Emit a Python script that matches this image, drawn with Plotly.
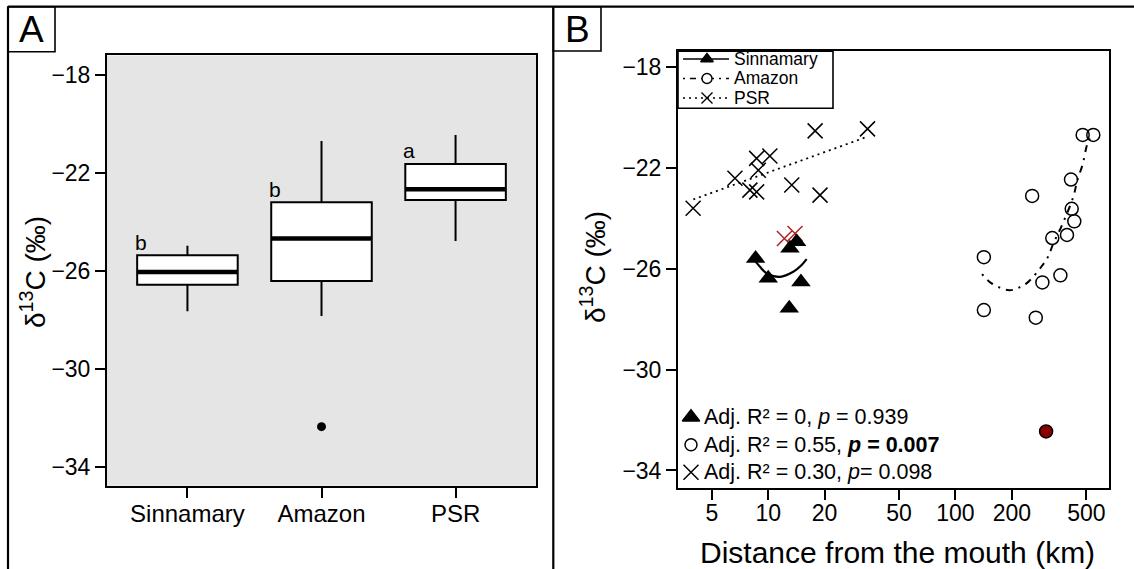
import plotly.graph_objects as go

W, H = 1134, 569
FONT = "Liberation Sans, Arial, Helvetica, sans-serif"

# ---------------- Panel A: box statistics ----------------
groups = ["Sinnamary", "Amazon", "PSR"]
box_low = [-27.65, -27.84, -24.78]
box_q1 = [-26.56, -26.41, -23.10]
box_med = [-26.04, -24.68, -22.67]
box_q3 = [-25.36, -23.20, -21.63]
box_high = [-24.97, -20.70, -20.45]
outlier_pos = [2]
outlier_val = [-32.36]
sig_letters = ["b", "b", "a"]

# ---------------- Panel B: scatter data ----------------
sin_dist = [8.56, 10.0, 13.06, 14.18, 14.95, 12.95]
sin_d13c = [-25.59, -26.38, -25.19, -24.93, -26.52, -27.57]

ama_dist = [141.8, 141.8, 256.8, 268.5, 291.2, 328.9, 363.4, 394.1, 417.6, 431.2, 414.0, 478.0, 544.6]
ama_d13c = [-25.54, -27.64, -23.11, -27.94, -26.54, -24.78, -26.26, -24.66, -23.62, -24.12, -22.46, -20.69, -20.69]
ama_out_dist = [304.8]
ama_out_d13c = [-32.45]

psr_dist = [3.97, 6.64, 7.98, 8.67, 8.85, 8.67, 10.2, 13.35, 18.9, 17.8, 33.9]
psr_d13c = [-23.60, -22.41, -22.88, -22.95, -22.09, -21.62, -21.53, -22.68, -23.08, -20.53, -20.45]
psr_red_dist = [12.2, 13.9]
psr_red_d13c = [-24.80, -24.60]

# fitted curves
sin_fit_x = [8.15, 9.03, 9.81, 11.55, 13.6, 15.08, 16.04]
sin_fit_y = [-25.52, -25.92, -26.18, -26.32, -26.12, -25.85, -25.62]
ama_fit_x = [138.6, 156.1, 193.8, 219.2, 244.8, 288.7, 313.2, 333.0, 369.3, 426.0, 447.3, 478.1, 505.8, 523.0]
ama_fit_y = [-26.21, -26.58, -26.85, -26.74, -26.52, -25.90, -25.50, -25.00, -24.30, -23.14, -22.50, -21.85, -21.05, -20.83]
psr_fit_x = [3.98, 33.3]
psr_fit_y = [-23.25, -20.78]

stats_text = [
    "Adj. R² = 0, <i>p</i> = 0.939",
    "Adj. R² = 0.55, <b><i>p</i> = 0.007</b>",
    "Adj. R² = 0.30, <i>p</i>= 0.098",
]
legend_names = ["Sinnamary", "Amazon", "PSR"]
xb_ticks = [5, 10, 20, 50, 100, 200, 500]
y_ticks = [-34, -30, -26, -22, -18]


def X(px):
    return px / W


def Y(py):
    return 1 - py / H


fig = go.Figure()

# ---- Panel A boxes ----
BW = 0.75
for i, g in enumerate(groups):
    fig.add_trace(go.Box(
        x=[i + 1], q1=[box_q1[i]], median=[box_med[i]], q3=[box_q3[i]],
        lowerfence=[box_low[i]], upperfence=[box_high[i]],
        width=BW, whiskerwidth=0, fillcolor="white",
        line=dict(color="black", width=2), boxpoints=False,
        showlegend=False, hoverinfo="skip", xaxis="x", yaxis="y"))
    fig.add_trace(go.Scatter(
        x=[i + 1 - BW / 2, i + 1 + BW / 2], y=[box_med[i], box_med[i]],
        mode="lines", line=dict(color="black", width=4.5),
        showlegend=False, hoverinfo="skip", xaxis="x", yaxis="y"))
fig.add_trace(go.Scatter(
    x=outlier_pos, y=outlier_val, mode="markers",
    marker=dict(color="black", size=9), showlegend=False,
    xaxis="x", yaxis="y"))

# ---- Panel B ----
fig.add_trace(go.Scatter(x=psr_fit_x, y=psr_fit_y, mode="lines",
                         line=dict(color="black", width=1.8, dash="2px,4px"),
                         showlegend=False, xaxis="x2", yaxis="y2"))
fig.add_trace(go.Scatter(x=ama_fit_x, y=ama_fit_y, mode="lines", line_shape="spline",
                         line=dict(color="black", width=2, dash="2px,6px,7px,6px"),
                         showlegend=False, xaxis="x2", yaxis="y2"))
fig.add_trace(go.Scatter(x=sin_fit_x, y=sin_fit_y, mode="lines", line_shape="spline",
                         line=dict(color="black", width=2.2),
                         showlegend=False, xaxis="x2", yaxis="y2"))
fig.add_trace(go.Scatter(x=psr_dist, y=psr_d13c, mode="markers",
                         marker=dict(symbol="x-thin-open", size=15, color="black",
                                     line=dict(color="black", width=1.5)),
                         showlegend=False, xaxis="x2", yaxis="y2"))
fig.add_trace(go.Scatter(x=psr_red_dist, y=psr_red_d13c, mode="markers",
                         marker=dict(symbol="x-thin-open", size=15, color="#b22222",
                                     line=dict(color="#b22222", width=1.5)),
                         showlegend=False, xaxis="x2", yaxis="y2"))
fig.add_trace(go.Scatter(x=sin_dist, y=sin_d13c, mode="markers",
                         marker=dict(symbol="triangle-up", size=17, color="black"),
                         showlegend=False, xaxis="x2", yaxis="y2"))
fig.add_trace(go.Scatter(x=ama_dist, y=ama_d13c, mode="markers",
                         marker=dict(symbol="circle-open", size=13, color="black",
                                     line=dict(color="black", width=1.5)),
                         showlegend=False, xaxis="x2", yaxis="y2"))
fig.add_trace(go.Scatter(x=ama_out_dist, y=ama_out_d13c, mode="markers",
                         marker=dict(symbol="circle", size=13, color="#8b0000",
                                     line=dict(color="black", width=1.5)),
                         showlegend=False, xaxis="x2", yaxis="y2"))

# ---- Legend keys & stats keys on a full-figure pixel overlay axis ----
leg_y = [59, 78.5, 98]
leg_dash = ["solid", "2px,5px,6px,5px", "2px,4px"]
leg_sym = ["triangle-up", "circle", "x-thin-open"]
leg_size = [11, 10, 11]
for k in range(3):
    fig.add_trace(go.Scatter(x=[683, 729], y=[leg_y[k]] * 2, mode="lines",
                             line=dict(color="black", width=1.6, dash=leg_dash[k]),
                             showlegend=False, xaxis="x3", yaxis="y3"))
    fig.add_trace(go.Scatter(x=[707], y=[leg_y[k]], mode="markers",
                             marker=dict(symbol=leg_sym[k], size=leg_size[k], color="white" if k == 1 else "black",
                                         line=dict(color="black", width=1.4)),
                             showlegend=False, xaxis="x3", yaxis="y3"))
stat_y = [417.3, 444.7, 472.2]
stat_sym = ["triangle-up", "circle-open", "x-thin-open"]
stat_size = [15, 12, 15]
for k in range(3):
    fig.add_trace(go.Scatter(x=[691], y=[stat_y[k]], mode="markers",
                             marker=dict(symbol=stat_sym[k], size=stat_size[k], color="black",
                                         line=dict(color="black", width=1.5)),
                             showlegend=False, xaxis="x3", yaxis="y3"))

axis_common = dict(showline=True, mirror=True, linecolor="black", linewidth=2,
                   ticks="outside", ticklen=10, tickwidth=2, tickcolor="black",
                   showgrid=False, zeroline=False)
yfont = dict(family=FONT, size=23, color="black")

fig.update_layout(
    width=W, height=H, margin=dict(l=0, r=0, t=0, b=0),
    paper_bgcolor="white", plot_bgcolor="rgba(0,0,0,0)",
    font=dict(family=FONT, color="black"),
    showlegend=False,
    xaxis=dict(domain=[X(107), X(536)], range=[0.4, 3.6], tickvals=[1, 2, 3],
               ticktext=groups, anchor="y", ticklabelstandoff=-5,
               tickfont=dict(family=FONT, size=24, color="black"), **axis_common),
    yaxis=dict(domain=[Y(485.7), Y(55.4)], range=[-34.77, -17.2], tickvals=y_ticks,
               anchor="x", tickfont=yfont, **axis_common),
    xaxis2=dict(type="log", domain=[X(678), X(1109)], range=[0.518, 2.820],
                tickvals=xb_ticks, ticktext=[str(t) for t in xb_ticks],
                anchor="y2", ticklabelstandoff=-6, tickfont=yfont, **axis_common),
    yaxis2=dict(domain=[Y(487.6), Y(51.2)], range=[-34.68, -17.37], tickvals=y_ticks,
                anchor="x2", tickfont=yfont, **axis_common),
    xaxis3=dict(domain=[0, 1], range=[0, W], visible=False, anchor="y3", fixedrange=True),
    yaxis3=dict(domain=[0, 1], range=[H, 0], visible=False, anchor="x3", fixedrange=True),
)

shapes = []
# gray background of panel A
shapes.append(dict(type="rect", xref="x domain", yref="y domain", x0=0, x1=1, y0=0, y1=1,
                   fillcolor="#e5e5e5", line=dict(width=0), layer="below"))
line_style = dict(color="black", width=2.2)
# outer frame and separators
shapes.append(dict(type="line", xref="paper", yref="paper", x0=X(8), x1=1, y0=Y(6.7), y1=Y(6.7), line=line_style))
shapes.append(dict(type="line", xref="paper", yref="paper", x0=X(8), x1=X(8), y0=Y(6.7), y1=0, line=line_style))
shapes.append(dict(type="line", xref="paper", yref="paper", x0=X(553.3), x1=X(553.3), y0=Y(6.7), y1=0, line=line_style))
# panel label boxes
shapes.append(dict(type="rect", xref="paper", yref="paper", x0=X(8), x1=X(55), y0=Y(51.7), y1=Y(6.7),
                   line=dict(color="black", width=1.6)))
shapes.append(dict(type="rect", xref="paper", yref="paper", x0=X(553.3), x1=X(601), y0=Y(51), y1=Y(6.7),
                   line=dict(color="black", width=1.6)))
# legend box
shapes.append(dict(type="rect", xref="paper", yref="paper", x0=X(678), x1=X(833), y0=Y(108.3), y1=Y(51.2),
                   line=dict(color="black", width=1.6), fillcolor="rgba(0,0,0,0)"))
fig.update_layout(shapes=shapes)

ann = []
ann.append(dict(text="A", x=X(31.5), y=Y(29.5), xref="paper", yref="paper", showarrow=False,
                font=dict(size=37, family=FONT, color="black"), xanchor="center", yanchor="middle"))
ann.append(dict(text="B", x=X(577), y=Y(29.5), xref="paper", yref="paper", showarrow=False,
                font=dict(size=37, family=FONT, color="black"), xanchor="center", yanchor="middle"))
ytitle = "δ<sup>13</sup>C (‰)"
ann.append(dict(text=ytitle, x=X(33), y=Y(272), xref="paper", yref="paper", showarrow=False,
                textangle=-90, font=dict(size=28, family=FONT, color="black"),
                xanchor="center", yanchor="middle"))
ann.append(dict(text=ytitle, x=X(593), y=Y(267), xref="paper", yref="paper", showarrow=False,
                textangle=-90, font=dict(size=28, family=FONT, color="black"),
                xanchor="center", yanchor="middle"))
ann.append(dict(text="Distance from the mouth (km)", x=X(897), y=Y(552), xref="paper", yref="paper",
                showarrow=False, font=dict(size=30, family=FONT, color="black"),
                xanchor="center", yanchor="middle"))
for i, L in enumerate(sig_letters):
    ann.append(dict(text=L, x=i + 1 - 0.345, y=box_q3[i] + 0.53, xref="x", yref="y", showarrow=False,
                    font=dict(size=21, family=FONT, color="black"), xanchor="center", yanchor="middle"))
for k, nm in enumerate(legend_names):
    ann.append(dict(text=nm, x=X(733), y=Y(leg_y[k]), xref="paper", yref="paper", showarrow=False,
                    borderpad=0, font=dict(size=17.5, family=FONT, color="black"),
                    xanchor="left", yanchor="middle"))
for k, t in enumerate(stats_text):
    ann.append(dict(text=t, x=X(702), y=Y(stat_y[k]), xref="paper", yref="paper", showarrow=False,
                    font=dict(size=21.5, family=FONT, color="black"), xanchor="left", yanchor="middle"))
fig.update_layout(annotations=ann)

fig.write_html("out.html")
